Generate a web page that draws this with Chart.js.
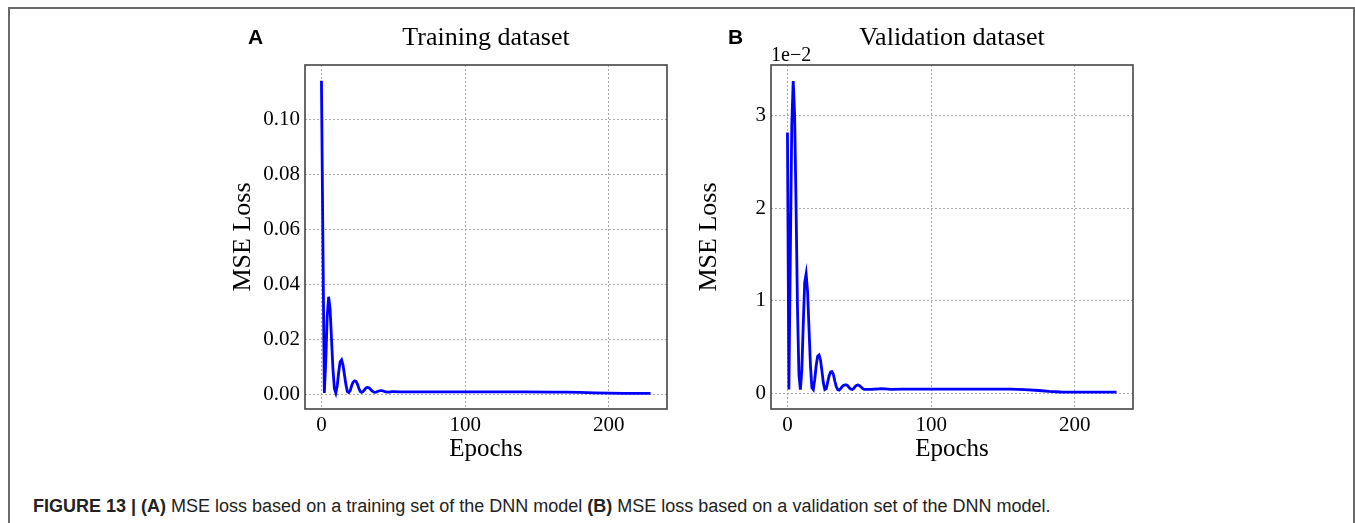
<!DOCTYPE html>
<html>
<head>
<meta charset="utf-8">
<script src="https://cdn.jsdelivr.net/npm/chart.js@4.4.1/dist/chart.umd.min.js"></script>
<style>
  html, body { margin: 0; padding: 0; background: #fff; }
  body { width: 1355px; height: 523px; position: relative; overflow: hidden; }
  #frame { position: absolute; left: 8px; top: 7px; width: 1343px; height: 600px;
           border: 2px solid #6a6a6a; border-bottom: none; }
  .cv { position: absolute; top: 20px; }
  .txt { position: absolute; white-space: nowrap; }
  .serif { font-family: "Liberation Serif", "Times New Roman", serif; color: #000; }
  .letter { font-family: "Liberation Sans", Arial, sans-serif; font-weight: bold; font-size: 21px; line-height: 21px; top: 26px; }
  .ttl { font-size: 26px; line-height: 26px; top: 24px; transform: translateX(-50%); }
  #caption { left: 33px; top: 497px; font-family: "Liberation Sans", Arial, sans-serif; font-size: 18px; line-height: 18px; color: #222; }
</style>
</head>
<body>
<div id="frame"></div>
<canvas id="chartA" class="cv" width="460" height="450" style="left:220px"></canvas>
<canvas id="chartB" class="cv" width="460" height="450" style="left:686px"></canvas>
<div class="txt letter" style="left:248px">A</div>
<div class="txt letter" style="left:728px">B</div>
<div class="txt serif ttl" style="left:486px">Training dataset</div>
<div class="txt serif ttl" style="left:952px">Validation dataset</div>
<div class="txt serif" style="left:771px; top:44px; font-size:20px; line-height:20px;">1e&#8722;2</div>
<div id="caption" class="txt"><b>FIGURE 13 | (A)</b> MSE loss based on a training set of the DNN model <b>(B)</b> MSE loss based on a validation set of the DNN model.</div>
<script>
// ---------- DATA ----------
const xTicks = [0, 100, 200];
const xTickLabels = ['0', '100', '200'];

const trainEpochs = [0,1,2,3,4,5,6,7,8,9,10,11,12,13,14,15,16,17,18,19,20,21,22,23,24,25,26,27,28,29,30,31,32,33,34,35,36,37,38,39,40,41,42,43,44,45,46,47,48,49,50,55,60,70,80,100,120,140,160,170,180,190,200,210,220,229];
const trainLoss = [0.1140,0.0560,0.0004,0.0120,0.0280,0.0354,0.0310,0.0200,0.0090,0.0020,0.0004,0.0030,0.0080,0.0117,0.0124,0.0105,0.0070,0.0035,0.0009,0.0005,0.0012,0.0030,0.0043,0.0048,0.0046,0.0036,0.0021,0.0009,0.0006,0.0009,0.0016,0.0022,0.0024,0.0023,0.0018,0.0012,0.0008,0.0006,0.0007,0.0009,0.0011,0.0012,0.0012,0.0011,0.0009,0.0008,0.0007,0.0007,0.0008,0.0009,0.0009,0.0008,0.0008,0.0008,0.0008,0.0008,0.0008,0.0008,0.0007,0.0007,0.0006,0.0004,0.0003,0.0002,0.0002,0.0002];
const trainYTicks = [0, 0.02, 0.04, 0.06, 0.08, 0.10];
const trainYTickLabels = ['0.00', '0.02', '0.04', '0.06', '0.08', '0.10'];

const valEpochs = [0,1,2,3,4,5,6,7,8,9,10,11,12,13,14,15,16,17,18,19,20,21,22,23,24,25,26,27,28,29,30,31,32,33,34,35,36,37,38,39,40,41,42,43,44,45,46,47,48,49,50,51,52,53,54,55,58,62,65,68,72,80,90,100,120,140,155,165,175,182,190,200,215,229];
const valLoss = [0.0282,0.0004,0.0150,0.0290,0.03376,0.0300,0.0200,0.0090,0.0020,0.0004,0.0025,0.0075,0.0120,0.0129,0.0110,0.0070,0.0030,0.0006,0.0004,0.0015,0.0030,0.0040,0.00414,0.0036,0.0024,0.0011,0.0004,0.0005,0.0012,0.0019,0.0023,0.00234,0.0020,0.0013,0.0007,0.0004,0.00035,0.0005,0.0007,0.00085,0.0009,0.0009,0.0008,0.0006,0.00045,0.0004,0.0005,0.0007,0.00085,0.0009,0.00085,0.0007,0.00055,0.00045,0.00042,0.00042,0.00043,0.00046,0.0005,0.00047,0.00043,0.00045,0.00045,0.00045,0.00045,0.00045,0.00044,0.0004,0.0003,0.0002,0.00014,0.00012,0.00012,0.00012];
const valYTicks = [0, 0.01, 0.02, 0.03];
const valYTickLabels = ['0', '1', '2', '3'];

// ---------- STYLE ----------
const SERIF = '"Liberation Serif", "Times New Roman", serif';

const framePlugin = {
  id: 'frame',
  afterDraw(chart) {
    const {ctx, chartArea: a} = chart;
    ctx.save();
    ctx.strokeStyle = '#444';
    ctx.lineWidth = 1.6;
    ctx.strokeRect(a.left, a.top, a.right - a.left, a.bottom - a.top);
    ctx.restore();
  }
};

function makeChart(id, xs, ys, yMin, yMax, yTicks, yLabels) {
  const pts = xs.map((x, i) => ({x: x, y: ys[i]}));
  return new Chart(document.getElementById(id), {
    type: 'line',
    data: { datasets: [{ data: pts, borderColor: '#0000ff', borderWidth: 2.8, pointRadius: 0, tension: 0, fill: false }] },
    options: {
      responsive: false, animation: false, devicePixelRatio: 1,
      layout: { padding: { top: 45, right: 13, left: 0, bottom: 0 } },
      plugins: { legend: { display: false }, tooltip: { enabled: false } },
      scales: {
        x: {
          type: 'linear', min: -11.45, max: 240.45,
          afterBuildTicks: s => { s.ticks = xTicks.map(v => ({value: v})); },
          afterFit: s => { s.height = 61; },
          ticks: { autoSkip: false, maxRotation: 0, padding: 4, color: '#000', font: { family: SERIF, size: 21 },
                   callback: (v, i) => xTickLabels[i] },
          grid: { color: '#a8a8a8', lineWidth: 1, drawTicks: false },
          border: { display: false, dash: [2, 2] },
          title: { display: true, text: 'Epochs', color: '#000', font: { family: SERIF, size: 25 }, padding: { top: 0, bottom: 6 } }
        },
        y: {
          type: 'linear', min: yMin, max: yMax,
          afterBuildTicks: s => { s.ticks = yTicks.map(v => ({value: v})); },
          afterFit: s => { s.width = 85; },
          ticks: { autoSkip: false, padding: 5, color: '#000', font: { family: SERIF, size: 21 },
                   callback: (v, i) => yLabels[i] },
          grid: { color: '#a8a8a8', lineWidth: 1, drawTicks: false },
          border: { display: false, dash: [2, 2] },
          title: { display: true, text: 'MSE Loss', color: '#000', font: { family: SERIF, size: 26 }, padding: { top: 8, bottom: 0 } }
        }
      }
    },
    plugins: [framePlugin]
  });
}

makeChart('chartA', trainEpochs, trainLoss, -0.00546, 0.11977, trainYTicks, trainYTickLabels);
makeChart('chartB', valEpochs, valLoss, -0.0017, 0.03549, valYTicks, valYTickLabels);
</script>
</body>
</html>
